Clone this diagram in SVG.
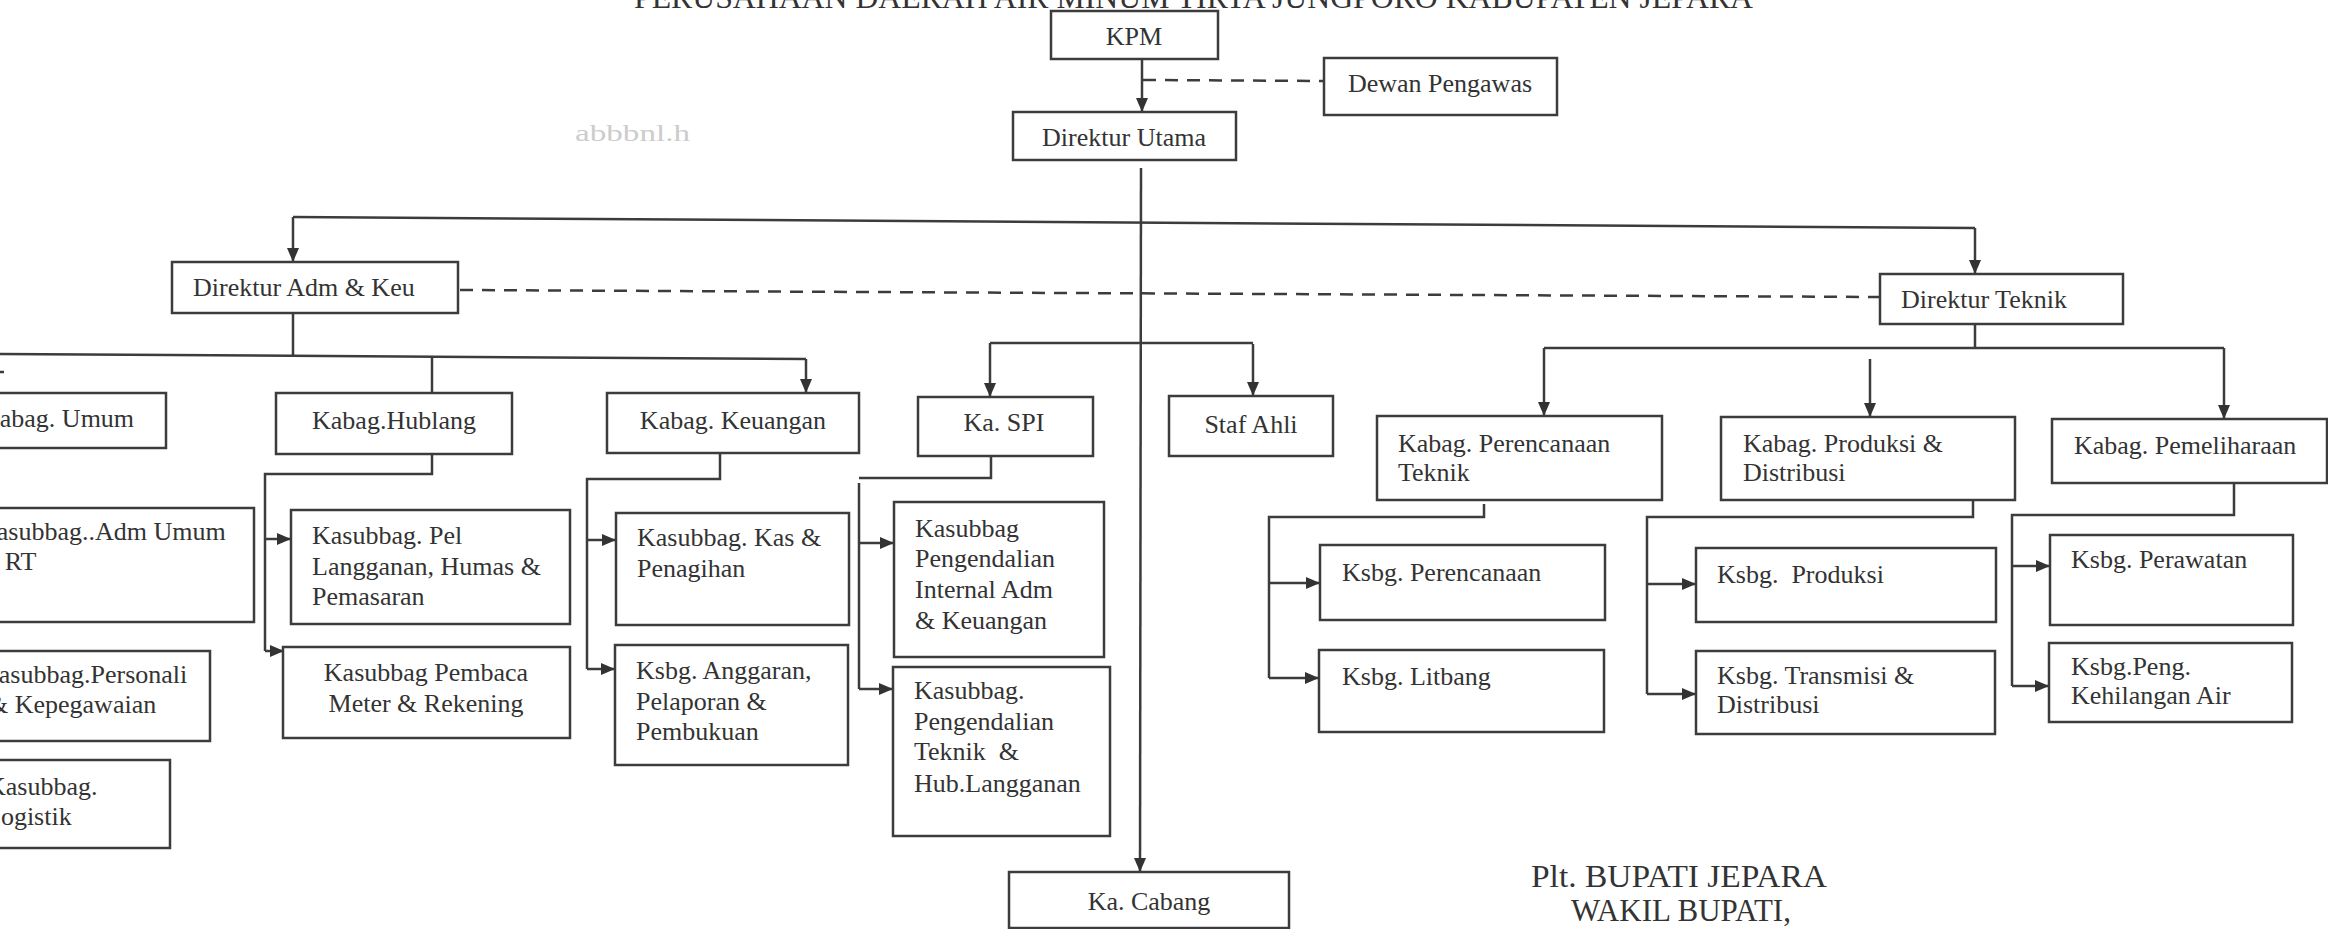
<svg xmlns="http://www.w3.org/2000/svg" width="2328" height="929" viewBox="0 0 2328 929">
<style>
.box{fill:#fff;stroke:#3c3c3c;stroke-width:2.5}
.t{font-family:"Liberation Serif","Times New Roman",serif;font-size:26px;fill:#333}
.c{text-anchor:middle}
.ln{fill:none;stroke:#3c3c3c;stroke-width:2.5}
.ds{stroke-dasharray:13 9}
</style>
<defs>
<marker id="ah" markerUnits="userSpaceOnUse" markerWidth="14" markerHeight="12" refX="14" refY="6" orient="auto">
<path d="M0,0 L14,6 L0,12 z" fill="#333"/>
</marker>
</defs>
<rect width="2328" height="929" fill="#fff"/>
<text class="t" x="634" y="8" textLength="1119" lengthAdjust="spacingAndGlyphs" style="font-size:31.5px">PERUSAHAAN DAERAH AIR MINUM TIRTA JUNGPORO KABUPATEN JEPARA</text>
<text x="575" y="141" textLength="115" lengthAdjust="spacingAndGlyphs" style="font-family:'Liberation Serif',serif;font-size:24px;fill:#cccccc">abbbnl.h</text>

<g id="connectors">
<line class="ln" x1="1142" y1="59" x2="1142" y2="112" marker-end="url(#ah)"/>
<line class="ln ds" x1="1143" y1="80" x2="1324" y2="81"/>
<line class="ln" x1="1141" y1="168" x2="1140" y2="872" marker-end="url(#ah)"/>
<path class="ln" d="M293,217 L1975,228"/>
<line class="ln" x1="293" y1="217" x2="293" y2="262" marker-end="url(#ah)"/>
<line class="ln" x1="1975" y1="228" x2="1975" y2="274" marker-end="url(#ah)"/>
<line class="ln ds" x1="460" y1="290" x2="1880" y2="297"/>
<path class="ln" d="M293,313 V355 M0,354 L806,359"/>
<line class="ln" x1="432" y1="356" x2="432" y2="393"/>
<line class="ln" x1="806" y1="359" x2="806" y2="393" marker-end="url(#ah)"/>
<line class="ln" x1="0" y1="372" x2="4" y2="372"/>
<path class="ln" d="M432,454 V474 H265 V651"/>
<line class="ln" x1="265" y1="539" x2="291" y2="539" marker-end="url(#ah)"/>
<line class="ln" x1="265" y1="651" x2="284" y2="651" marker-end="url(#ah)"/>
<path class="ln" d="M720,453 V479 H587 V669"/>
<line class="ln" x1="587" y1="540" x2="616" y2="540" marker-end="url(#ah)"/>
<line class="ln" x1="587" y1="669" x2="615" y2="669" marker-end="url(#ah)"/>
<path class="ln" d="M990,343 H1253"/>
<line class="ln" x1="990" y1="343" x2="990" y2="397" marker-end="url(#ah)"/>
<line class="ln" x1="1253" y1="344" x2="1253" y2="396" marker-end="url(#ah)"/>
<path class="ln" d="M991,456 V478 H859 M859,483 V689"/>
<line class="ln" x1="859" y1="543" x2="894" y2="543" marker-end="url(#ah)"/>
<line class="ln" x1="859" y1="689" x2="893" y2="689" marker-end="url(#ah)"/>
<path class="ln" d="M1975,324 V349 M1544,348 H2224"/>
<line class="ln" x1="1544" y1="348" x2="1544" y2="416" marker-end="url(#ah)"/>
<line class="ln" x1="2224" y1="348" x2="2224" y2="419" marker-end="url(#ah)"/>
<line class="ln" x1="1870" y1="359" x2="1870" y2="417" marker-end="url(#ah)"/>
<path class="ln" d="M1484,504 V517 H1269 V678"/>
<line class="ln" x1="1269" y1="583" x2="1320" y2="583" marker-end="url(#ah)"/>
<line class="ln" x1="1269" y1="678" x2="1319" y2="678" marker-end="url(#ah)"/>
<path class="ln" d="M1973,490 V517 H1647 V694"/>
<line class="ln" x1="1647" y1="584" x2="1696" y2="584" marker-end="url(#ah)"/>
<line class="ln" x1="1647" y1="694" x2="1696" y2="694" marker-end="url(#ah)"/>
<path class="ln" d="M2234,483 V515 H2012 V686"/>
<line class="ln" x1="2012" y1="566" x2="2050" y2="566" marker-end="url(#ah)"/>
<line class="ln" x1="2012" y1="686" x2="2049" y2="686" marker-end="url(#ah)"/>
</g>

<g id="kpm"><rect class="box" x="1051" y="11" width="167" height="48"/><text class="t c" x="1134" y="45">KPM</text></g>
<g id="dewan-pengawas"><rect class="box" x="1324" y="58" width="233" height="57"/><text class="t c" x="1440" y="92">Dewan Pengawas</text></g>
<g id="direktur-utama"><rect class="box" x="1013" y="112" width="223" height="48"/><text class="t c" x="1124" y="146">Direktur Utama</text></g>
<g id="direktur-adm"><rect class="box" x="172" y="262" width="286" height="51"/><text class="t" x="193" y="296">Direktur Adm &amp; Keu</text></g>
<g id="direktur-teknik"><rect class="box" x="1880" y="274" width="243" height="50"/><text class="t" x="1901" y="308">Direktur Teknik</text></g>

<g id="kabag-umum"><rect class="box" x="-60" y="393" width="226" height="55"/><text class="t" x="-19" y="427">Kabag. Umum</text></g>
<g id="ksb-adm-umum"><rect class="box" x="-60" y="508" width="314" height="114"/><text class="t" x="-22" y="540">Kasubbag..Adm Umum</text><text class="t" x="-22" y="570">&amp; RT</text></g>
<g id="ksb-personali"><rect class="box" x="-60" y="651" width="270" height="90"/><text class="t" x="-20" y="683">Kasubbag.Personali</text><text class="t" x="-12" y="713">&amp; Kepegawaian</text></g>
<g id="ksb-logistik"><rect class="box" x="-60" y="760" width="230" height="88"/><text class="t" x="-13" y="795">Kasubbag.</text><text class="t" x="-15" y="825">Logistik</text></g>

<g id="kabag-hublang"><rect class="box" x="276" y="393" width="236" height="61"/><text class="t c" x="394" y="429">Kabag.Hublang</text></g>
<g id="ksb-pel"><rect class="box" x="291" y="510" width="279" height="114"/><text class="t" x="312" y="544">Kasubbag. Pel</text><text class="t" x="312" y="575">Langganan, Humas &amp;</text><text class="t" x="312" y="605">Pemasaran</text></g>
<g id="ksb-pembaca"><rect class="box" x="283" y="647" width="287" height="91"/><text class="t c" x="426" y="681">Kasubbag Pembaca</text><text class="t c" x="426" y="712">Meter &amp; Rekening</text></g>

<g id="kabag-keuangan"><rect class="box" x="607" y="393" width="252" height="60"/><text class="t c" x="733" y="429">Kabag. Keuangan</text></g>
<g id="ksb-kas"><rect class="box" x="616" y="513" width="233" height="112"/><text class="t" x="637" y="546">Kasubbag. Kas &amp;</text><text class="t" x="637" y="577">Penagihan</text></g>
<g id="ksbg-anggaran"><rect class="box" x="615" y="645" width="233" height="120"/><text class="t" x="636" y="679">Ksbg. Anggaran,</text><text class="t" x="636" y="710">Pelaporan &amp;</text><text class="t" x="636" y="740">Pembukuan</text></g>

<g id="ka-spi"><rect class="box" x="918" y="397" width="175" height="59"/><text class="t c" x="1004" y="431">Ka. SPI</text></g>
<g id="ksb-pi-adm"><rect class="box" x="894" y="502" width="210" height="155"/><text class="t" x="915" y="537">Kasubbag</text><text class="t" x="915" y="567">Pengendalian</text><text class="t" x="915" y="598">Internal Adm</text><text class="t" x="915" y="629">&amp; Keuangan</text></g>
<g id="ksb-pi-teknik"><rect class="box" x="893" y="667" width="217" height="169"/><text class="t" x="914" y="699">Kasubbag.</text><text class="t" x="914" y="730">Pengendalian</text><text class="t" x="914" y="760" xml:space="preserve">Teknik  &amp;</text><text class="t" x="914" y="792">Hub.Langganan</text></g>

<g id="staf-ahli"><rect class="box" x="1169" y="396" width="164" height="60"/><text class="t c" x="1251" y="433">Staf Ahli</text></g>
<g id="ka-cabang"><rect class="box" x="1009" y="872" width="280" height="56"/><text class="t c" x="1149" y="910">Ka. Cabang</text></g>

<g id="kabag-perencanaan"><rect class="box" x="1377" y="416" width="285" height="84"/><text class="t" x="1398" y="452">Kabag. Perencanaan</text><text class="t" x="1398" y="481">Teknik</text></g>
<g id="ksbg-perencanaan"><rect class="box" x="1320" y="545" width="285" height="75"/><text class="t" x="1342" y="581">Ksbg. Perencanaan</text></g>
<g id="ksbg-litbang"><rect class="box" x="1319" y="650" width="285" height="82"/><text class="t" x="1342" y="685">Ksbg. Litbang</text></g>

<g id="kabag-produksi"><rect class="box" x="1721" y="417" width="294" height="83"/><text class="t" x="1743" y="452">Kabag. Produksi &amp;</text><text class="t" x="1743" y="481">Distribusi</text></g>
<g id="ksbg-produksi"><rect class="box" x="1696" y="548" width="300" height="74"/><text class="t" x="1717" y="583" xml:space="preserve">Ksbg.  Produksi</text></g>
<g id="ksbg-transmisi"><rect class="box" x="1696" y="651" width="299" height="83"/><text class="t" x="1717" y="684">Ksbg. Transmisi &amp;</text><text class="t" x="1717" y="713">Distribusi</text></g>

<g id="kabag-pemeliharaan"><rect class="box" x="2052" y="419" width="275" height="64"/><text class="t" x="2074" y="454">Kabag. Pemeliharaan</text></g>
<g id="ksbg-perawatan"><rect class="box" x="2050" y="535" width="243" height="90"/><text class="t" x="2071" y="568">Ksbg. Perawatan</text></g>
<g id="ksbg-kehilangan"><rect class="box" x="2049" y="643" width="243" height="79"/><text class="t" x="2071" y="675">Ksbg.Peng.</text><text class="t" x="2071" y="704">Kehilangan Air</text></g>

<g id="signature">
<text class="t" x="1531" y="887" textLength="296" lengthAdjust="spacingAndGlyphs" style="font-size:31px">Plt. BUPATI JEPARA</text>
<text class="t c" x="1681" y="921" style="font-size:31px">WAKIL BUPATI,</text>
</g>
</svg>
